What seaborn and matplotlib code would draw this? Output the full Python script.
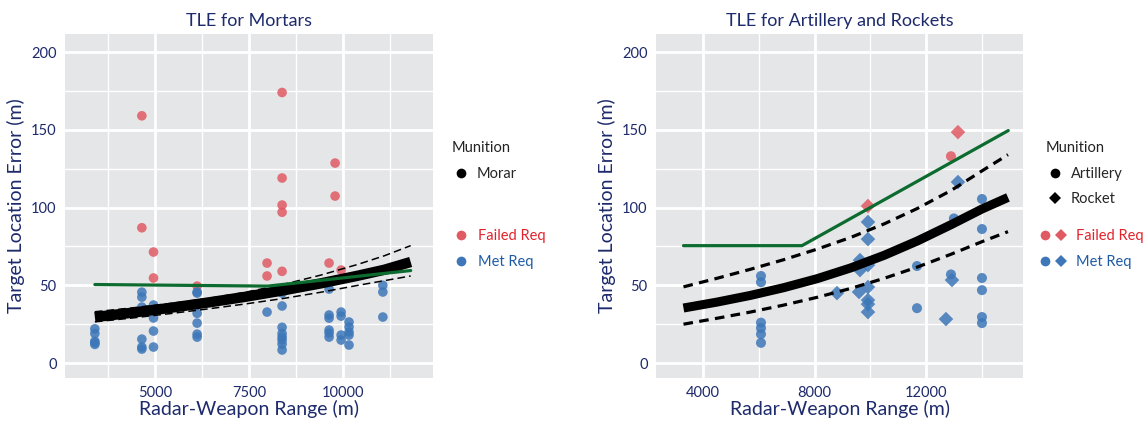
import numpy as np
import pandas as pd
import matplotlib
matplotlib.use("Agg")
import matplotlib.pyplot as plt
from matplotlib.lines import Line2D
from matplotlib.legend_handler import HandlerTuple
from matplotlib.ticker import FixedLocator
import seaborn as sns

# ---------------- data: mortars ----------------
mortar_range = (
    [3400] * 5 + [4650] * 8 + [4960] * 6 + [6120] * 7 + [7980] * 3 + [8380] * 13 +
    [9630] * 7 + [9790] * 2 + [9950] * 5 + [10160] * 5 + [11060] * 3
)
mortar_tle = (
    [22, 19, 14, 13, 12] +
    [159, 87, 45.6, 42.4, 36, 15.4, 10.3, 9] +
    [71.4, 54.7, 37.3, 29, 20.6, 10.3] +
    [49.5, 45.7, 45, 32, 25.7, 18.6, 16.7] +
    [64.3, 56, 32.8] +
    [174, 119, 101.6, 97, 59, 45, 36.7, 23, 19, 16.7, 14.8, 12.2, 8.4] +
    [64.3, 47.6, 30.9, 28.9, 21.2, 19.3, 16.7] +
    [128.6, 107.4] +
    [59.8, 32.8, 30.2, 18, 14.8] +
    [26.4, 23.2, 20, 18, 11.6] +
    [50, 45.7, 29.6]
)
mortar_status = (
    ["Met Req"] * 5 +
    ["Failed Req"] * 2 + ["Met Req"] * 6 +
    ["Failed Req"] * 2 + ["Met Req"] * 4 +
    ["Failed Req"] * 1 + ["Met Req"] * 6 +
    ["Failed Req"] * 2 + ["Met Req"] * 1 +
    ["Failed Req"] * 5 + ["Met Req"] * 8 +
    ["Failed Req"] * 1 + ["Met Req"] * 6 +
    ["Failed Req"] * 2 +
    ["Failed Req"] * 1 + ["Met Req"] * 4 +
    ["Met Req"] * 5 +
    ["Met Req"] * 3
)

# model curves for mortars (fit with upper/lower bounds, requirement)
mortar_fit_x = [3400, 4400, 5400, 6400, 7400, 8400, 9400, 10400, 11100, 11800]
mortar_fit_y = [29.6, 32.4, 35.5, 38.9, 42.6, 46.7, 51.2, 56.2, 60.0, 65.0]
mortar_hi_y = [33.0, 35.5, 38.3, 41.5, 45.5, 50.5, 56.5, 63.5, 69.0, 75.5]
mortar_lo_y = [26.5, 29.0, 31.8, 34.8, 38.0, 41.5, 45.5, 50.0, 53.0, 56.0]
mortar_req_x = [3400, 8000, 11800]
mortar_req_y = [50.5, 49.5, 59.5]

# ---------------- data: artillery & rockets ----------------
ar_range = (
    [6080] * 6 + [11676] * 2 + [12895] * 2 + [13000] + [14007] * 6 +
    [13146] * 2 + [9918] * 8 + [9631] * 2 + [8806] + [9596] + [12931] + [12716]
)
ar_tle = (
    [56, 52, 26, 22.5, 18.6, 13] + [62.4, 35.3] + [133, 57] + [93] +
    [105.5, 86.2, 54.7, 46.9, 29.6, 25.7] +
    [148.5, 116.4] + [101, 90.7, 79.7, 63, 48.9, 40.5, 37.9, 32.8] +
    [66.2, 59.8] + [45] + [45.7] + [53.4] + [28.3]
)
ar_munition = ["Artillery"] * 17 + ["Rocket"] * 16
ar_status = (
    ["Met Req"] * 6 + ["Met Req"] * 2 + ["Failed Req", "Met Req"] + ["Met Req"] +
    ["Met Req"] * 6 +
    ["Failed Req", "Met Req"] + ["Failed Req"] + ["Met Req"] * 7 +
    ["Met Req"] * 2 + ["Met Req"] + ["Met Req"] + ["Met Req"] + ["Met Req"]
)

ar_curve_x = [3300, 4500, 5700, 6900, 8100, 9300, 10500, 11700, 12900, 14000, 14940]
ar_fit_y = [35.4, 39.2, 43.5, 48.5, 54.3, 61.2, 69.3, 78.6, 89.0, 99.0, 106.5]
ar_hi_y = [49.0, 54.5, 60.3, 66.5, 73.3, 80.8, 89.5, 99.5, 111.0, 123.5, 134.0]
ar_lo_y = [25.0, 28.8, 32.8, 37.3, 42.3, 48.0, 54.5, 61.8, 70.0, 78.0, 84.5]
ar_req_x = [3300, 7550, 14950]
ar_req_y = [75.5, 75.5, 149.5]

# ---------------- styling ----------------
NAVY = "#1d2a6b"
PANEL = "#e5e6e8"
RED_PT = "#e05a63"
BLUE_PT = "#3d77b8"
RED_TXT = "#e3222b"
BLUE_TXT = "#1e5ba6"
GREEN = "#0c6b2e"

sns.set_style("white")
plt.rcParams["font.family"] = ["Lato", "DejaVu Sans"]

fig = plt.figure(figsize=(11.48, 4.21), dpi=100)
ax1 = fig.add_axes([65 / 1148, 1 - 378 / 421, 368 / 1148, 344 / 421])
ax2 = fig.add_axes([656 / 1148, 1 - 378 / 421, 367 / 1148, 344 / 421])

palette = {"Failed Req": RED_PT, "Met Req": BLUE_PT}


def style_axes(ax, xlim, major, minor, title):
    ax.set_facecolor(PANEL)
    ax.set_xlim(*xlim)
    ax.set_ylim(-9.6, 211.6)
    ax.xaxis.set_major_locator(FixedLocator(major))
    ax.xaxis.set_minor_locator(FixedLocator(minor))
    ax.yaxis.set_major_locator(FixedLocator([0, 50, 100, 150, 200]))
    ax.yaxis.set_minor_locator(FixedLocator([25, 75, 125, 175]))
    ax.grid(which="major", color="white", linewidth=2.0)
    ax.grid(which="minor", color="white", linewidth=1.0)
    ax.set_axisbelow(True)
    for s in ax.spines.values():
        s.set_visible(False)
    ax.tick_params(which="major", length=4, width=2, color=NAVY,
                   labelcolor=NAVY, labelsize=10.5, pad=2)
    ax.tick_params(which="minor", length=0)
    ax.set_xticklabels([str(v) for v in major])
    ax.set_xlabel("Radar-Weapon Range (m)", color=NAVY, fontsize=14, labelpad=0)
    ax.set_ylabel("Target Location Error (m)", color=NAVY, fontsize=14, labelpad=4)
    ax.set_title(title, color=NAVY, fontsize=13, pad=6)


def curve(ax, x, y, **kw):
    sns.lineplot(x=x, y=y, sort=False, estimator=None, ax=ax, **kw)


# ---------------- left panel: mortars ----------------
mortar_df = pd.DataFrame({"range": mortar_range, "tle": mortar_tle,
                          "status": mortar_status})
sns.scatterplot(data=mortar_df, x="range", y="tle", hue="status", palette=palette,
                s=48, alpha=0.85, edgecolor="none", legend=False, ax=ax1, zorder=2)
curve(ax1, mortar_fit_x, mortar_fit_y, color="black", lw=7.5,
      solid_capstyle="butt", solid_joinstyle="round", zorder=3)
curve(ax1, mortar_fit_x, mortar_hi_y, color="black", lw=1.1,
      linestyle=(0, (5, 2.7)), zorder=3)
curve(ax1, mortar_fit_x, mortar_lo_y, color="black", lw=1.1,
      linestyle=(0, (5, 2.7)), zorder=3)
curve(ax1, mortar_req_x, mortar_req_y, color=GREEN, lw=2.3, zorder=4)
style_axes(ax1, (2606, 12394), [5000, 7500, 10000], [3750, 6250, 8750, 11250],
           "TLE for Mortars")

# ---------------- right panel: artillery and rockets ----------------
ar_df = pd.DataFrame({"range": ar_range, "tle": ar_tle,
                      "munition": ar_munition, "status": ar_status})
sns.scatterplot(data=ar_df[ar_df.munition == "Artillery"], x="range", y="tle",
                hue="status", palette=palette, marker="o", s=52, alpha=0.85,
                edgecolor="none", legend=False, ax=ax2, zorder=2)
sns.scatterplot(data=ar_df[ar_df.munition == "Rocket"], x="range", y="tle",
                hue="status", palette=palette, marker="D", s=55, alpha=0.85,
                edgecolor="none", legend=False, ax=ax2, zorder=2)
curve(ax2, ar_curve_x, ar_fit_y, color="black", lw=6.5,
      solid_capstyle="butt", solid_joinstyle="round", zorder=3)
curve(ax2, ar_curve_x, ar_hi_y, color="black", lw=2.3,
      linestyle=(0, (3, 2)), zorder=3)
curve(ax2, ar_curve_x, ar_lo_y, color="black", lw=2.3,
      linestyle=(0, (3, 2)), zorder=3)
curve(ax2, ar_req_x, ar_req_y, color=GREEN, lw=2.3, zorder=4)
style_axes(ax2, (2314, 15479), [4000, 8000, 12000], [2000, 6000, 10000, 14000],
           "TLE for Artillery and Rockets")

# ---------------- legends ----------------
def dot(marker, color, size=7):
    return Line2D([], [], marker=marker, color=color, linestyle="",
                  markersize=size, markeredgewidth=0)


def munition_legend(handles, labels, x):
    leg = fig.legend(handles, labels, title="Munition", loc="upper left",
                     bbox_to_anchor=(x, 1 - 141 / 421), frameon=False,
                     fontsize=10.5,
                     title_fontproperties={"size": 10.5, "weight": "normal",
                                           "family": ["Lato", "DejaVu Sans"]},
                     handlelength=1.2, handletextpad=0.5, labelspacing=0.8,
                     borderpad=0, borderaxespad=0)
    leg._legend_box.align = "left"
    leg.get_title().set_color("#222222")
    return leg


def status_legend(handles, x, hl, handler_map=None):
    leg = fig.legend(handles, ["Failed Req", "Met Req"], loc="upper left",
                     bbox_to_anchor=(x, 1 - 229 / 421), frameon=False,
                     fontsize=10.5, handlelength=hl, handletextpad=0.6,
                     labelspacing=0.8, borderpad=0, borderaxespad=0,
                     handler_map=handler_map)
    for t, c in zip(leg.get_texts(), [RED_TXT, BLUE_TXT]):
        t.set_color(c)
    return leg


munition_legend([dot("o", "black")], ["Morar"], 452 / 1148)
status_legend([dot("o", RED_PT), dot("o", BLUE_PT)], 452 / 1148, 1.2)

munition_legend([dot("o", "black"), dot("D", "black", 6.5)],
                ["Artillery", "Rocket"], 1046 / 1148)
status_legend([(dot("o", RED_PT), dot("D", RED_PT, 6.5)),
               (dot("o", BLUE_PT), dot("D", BLUE_PT, 6.5))],
              1038 / 1148, 2.0,
              handler_map={tuple: HandlerTuple(ndivide=None, pad=0.2)})

fig.savefig("out.png", dpi=100)
